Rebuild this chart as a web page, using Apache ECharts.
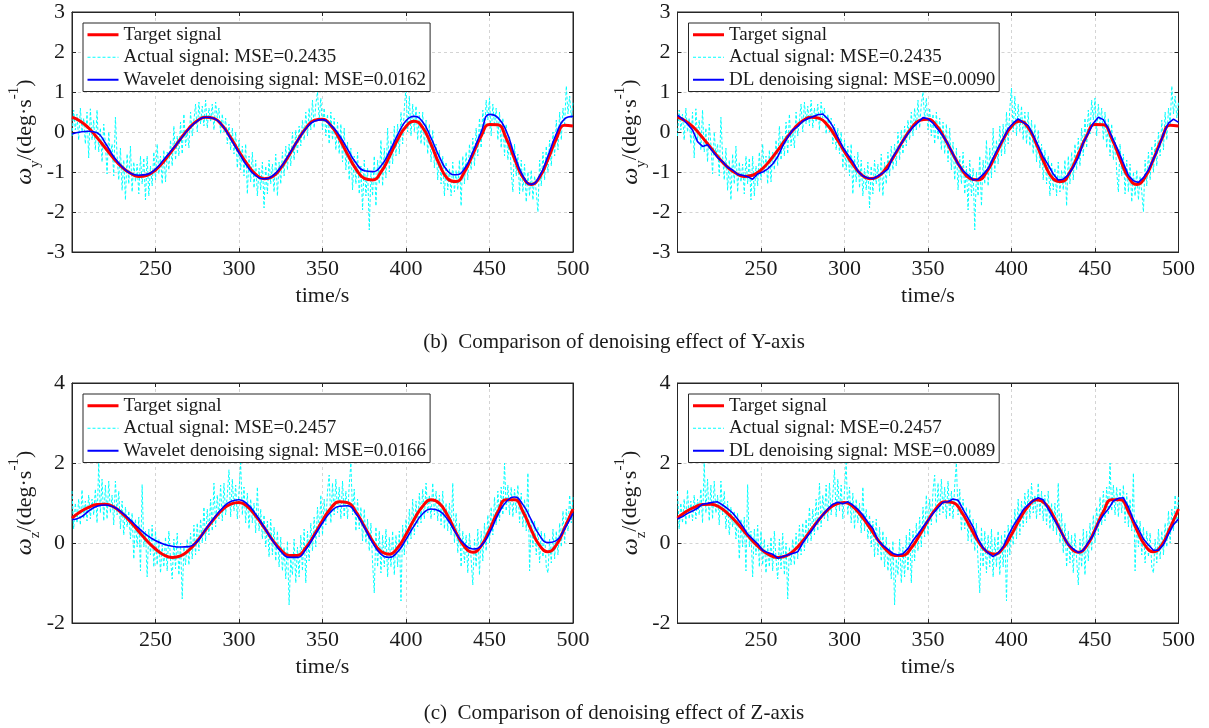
<!DOCTYPE html>
<html>
<head>
<meta charset="utf-8">
<script src="https://cdn.jsdelivr.net/npm/echarts@6/dist/echarts.min.js"></script>
<style>
  html, body { margin: 0; padding: 0; background: #fff; }
  #chart { width: 1209px; height: 728px; }
</style>
</head>
<body>
<div id="chart"></div>
<script>
// ---- data (time starts at 200 s) ----
const tStart = 200

// Y axis, target: every 5 s
const targetY = [
  0.37, 0.27, 0.10, -0.14, -0.40, -0.66, -0.88, -1.03, -1.11, -1.08,
  -0.95, -0.73, -0.46, -0.17, 0.09, 0.28, 0.37, 0.34, 0.16, -0.14,
  -0.49, -0.81, -1.06, -1.17, -1.12, -0.90, -0.58, -0.22, 0.09, 0.29,
  0.32, 0.16, -0.16, -0.56, -0.92, -1.16, -1.20, -1.00, -0.62, -0.19,
  0.14, 0.27, 0.11, -0.31, -0.81, -1.17, -1.24, -1.00, -0.56, -0.10,
  0.19, 0.18, -0.16, -0.67, -1.13, -1.31, -1.13, -0.68, -0.17, 0.17,
  0.15
]
// Y axis, wavelet denoising: every 5 s
const waveletY = [
  -0.05, 0.00, 0.02, -0.02, -0.28, -0.62, -0.87, -1.03, -1.08, -1.06,
  -0.93, -0.69, -0.44, -0.18, 0.08, 0.27, 0.37, 0.34, 0.16, -0.17,
  -0.52, -0.86, -1.09, -1.17, -1.10, -0.88, -0.56, -0.22, 0.08, 0.27,
  0.31, 0.17, -0.08, -0.43, -0.77, -0.97, -0.99, -0.85, -0.50, -0.07,
  0.28, 0.39, 0.25, -0.15, -0.62, -0.98, -1.07, -0.92, -0.50, 0.00,
  0.44, 0.36, 0.03, -0.58, -1.10, -1.31, -1.10, -0.60, -0.05, 0.33,
  0.39
]
// Y axis, DL denoising: every 3 s
const dlY = [
  0.42, 0.33, 0.20, 0.05, -0.24, -0.36, -0.32, -0.48, -0.64, -0.74,
  -0.88, -0.95, -1.06, -1.08, -1.12, -1.18, -1.05, -1.00, -0.92, -0.80,
  -0.62, -0.35, -0.13, 0.05, 0.14, 0.27, 0.33, 0.38, 0.43, 0.45,
  0.33, 0.14, -0.13, -0.38, -0.57, -0.74, -0.98, -1.10, -1.15, -1.17,
  -1.10, -1.02, -0.93, -0.62, -0.42, -0.22, -0.04, 0.12, 0.24, 0.36,
  0.33, 0.22, 0.06, -0.10, -0.30, -0.55, -0.80, -0.97, -1.08, -1.20,
  -1.18, -1.06, -0.92, -0.65, -0.40, -0.17, 0.08, 0.22, 0.33, 0.24,
  0.16, -0.08, -0.35, -0.62, -0.82, -1.05, -1.20, -1.18, -1.07, -0.88,
  -0.64, -0.27, -0.03, 0.22, 0.37, 0.31, 0.08, -0.20, -0.47, -0.78,
  -1.08, -1.22, -1.26, -1.14, -0.95, -0.68, -0.40, -0.05, 0.22, 0.32,
  0.24
]
// Y axis, actual (noisy) signal: every 1 s
const actualY = [
  -0.1, 0.55, 0.05, 0.45, -0.2, 0.6, 0.0, 0.35, -0.3, 0.5,
  -0.65, 0.58, -0.2, 0.3, -0.45, 0.55, -0.5, 0.1, -0.75, 0.2,
  -0.3, -1.05, 0.0, -0.6, -0.3, -1.1, 0.37, -0.6, -1.2, -0.4,
  -1.46, -0.7, -1.7, -0.55, -1.3, -0.35, -1.5, -0.75, -1.25, -0.8,
  -1.55, -0.6, -1.3, -0.65, -1.7, -0.6, -1.6, -0.85, -1.35, -0.5,
  -1.2, -0.3, -1.05, -0.6, -1.3, -0.45, -1.25, -0.5, -0.95, -0.2,
  -0.85, 0.15, -0.7, -0.1, -0.6, 0.25, -0.55, 0.45, -0.35, 0.05,
  -0.4, 0.5, -0.1, 0.3, 0.7, 0.0, 0.75, 0.2, 0.65, 0.15,
  0.8, 0.1, 0.6, 0.25, 0.7, 0.05, 0.75, 0.35, 0.6, -0.05,
  0.45, 0.0, 0.35, -0.3, 0.2, -0.45, 0.1, -0.55, 0.0, -0.9,
  -0.2, -0.95, -0.35, -1.1, -0.3, -1.55, -0.6, -1.25, -0.5, -1.4,
  -0.7, -1.6, -0.9, -1.45, -0.75, -1.9, -0.85, -1.55, -0.7, -1.3,
  -0.8, -1.5, -0.55, -1.6, -0.75, -1.3, -0.5, -1.1, -0.35, -0.95,
  -0.3, -0.85, 0.0, -0.7, 0.05, -0.55, 0.15, -0.35, 0.3, -0.2,
  0.5, -0.1, 0.6, 0.05, 0.8, 0.1, 0.7, 1.0, 0.3, 0.85,
  0.05, 0.6, -0.1, 0.45, -0.3, 0.5, -0.2, 0.35, -0.45, 0.25,
  -0.55, 0.2, -0.75, 0.1, -0.95, -0.25, -1.2, -0.4, -1.45, -0.6,
  -1.3, -0.5, -1.55, -0.85, -1.95, -0.7, -1.6, -0.9, -2.45, -1.0,
  -1.6, -0.6, -1.85, -0.7, -1.3, -0.2, -1.35, -0.4, -1.15, 0.1,
  -1.0, -0.2, -0.8, 0.15, -0.6, 0.2, -0.55, 0.5, -0.3, 0.6,
  1.1, 0.0, 0.9, -0.1, 0.7, 0.0, 0.65, -0.2, 0.5, -0.3,
  0.5, -0.35, 0.3, -0.55, 0.2, -0.75, 0.05, -0.9, -0.3, -1.2,
  -0.45, -1.3, -0.6, -1.6, -0.75, -1.45, -0.9, -1.6, -0.75, -1.5,
  -0.95, -1.45, -0.7, -1.85, -0.6, -1.3, -0.5, -1.2, -0.3, -0.95,
  -0.15, -0.85, 0.1, -0.6, 0.35, -0.4, 0.55, -0.05, 0.8, 0.3,
  0.85, -0.1, 0.7, 0.15, 0.6, -0.2, 0.5, -0.4, 0.35, -0.6,
  0.2, -0.7, -0.1, -1.0, -1.5, -0.3, -1.1, -0.55, -1.55, -0.7,
  -1.5, -0.8, -1.75, -1.0, -1.6, -0.95, -1.7, -1.1, -1.5, -2.0,
  -0.7, -1.35, -0.5, -1.2, -0.35, -1.0, -0.2, -0.85, 0.0, -0.6,
  0.3, -0.45, 0.5, -0.2, 0.6, 0.2, 1.15, 0.45, 0.9, 0.35,
  0.75
]

// Z axis, target: every 5 s
const targetZ = [
  0.62, 0.78, 0.89, 0.96, 0.97, 0.90, 0.74, 0.53, 0.29, 0.05,
  -0.15, -0.30, -0.36, -0.32, -0.18, 0.05, 0.33, 0.60, 0.83, 0.97,
  1.01, 0.91, 0.68, 0.39, 0.08, -0.17, -0.31, -0.31, -0.12, 0.20,
  0.56, 0.87, 1.03, 1.01, 0.78, 0.42, 0.05, -0.21, -0.28, -0.12,
  0.21, 0.60, 0.92, 1.08, 0.99, 0.68, 0.26, -0.09, -0.23, -0.07,
  0.33, 0.78, 1.08, 1.08, 0.79, 0.33, -0.06, -0.22, -0.05, 0.38,
  0.85
]
// Z axis, wavelet denoising: every 5 s
const waveletZ = [
  0.58, 0.64, 0.80, 0.92, 0.95, 0.90, 0.76, 0.57, 0.37, 0.19,
  0.06, -0.03, -0.08, -0.10, -0.09, 0.04, 0.34, 0.62, 0.87, 1.04,
  1.08, 0.97, 0.72, 0.40, 0.07, -0.21, -0.36, -0.36, -0.16, 0.17,
  0.50, 0.78, 0.92, 0.93, 0.74, 0.40, 0.01, -0.28, -0.36, -0.22,
  0.09, 0.44, 0.73, 0.85, 0.80, 0.58, 0.24, -0.03, -0.15, -0.07,
  0.25, 0.70, 1.03, 1.15, 0.96, 0.58, 0.19, 0.01, 0.06, 0.36,
  0.74
]
// Z axis, DL denoising: every 3 s
const dlZ = [
  0.60, 0.66, 0.74, 0.80, 0.87, 0.97, 0.99, 1.02, 1.03, 0.95,
  0.86, 0.75, 0.60, 0.42, 0.22, 0.10, -0.02, -0.18, -0.24, -0.28,
  -0.38, -0.34, -0.30, -0.26, -0.22, 0.00, 0.18, 0.35, 0.55, 0.70,
  0.85, 0.97, 1.02, 0.98, 1.03, 0.95, 0.84, 0.70, 0.52, 0.36,
  0.07, -0.06, -0.16, -0.26, -0.30, -0.27, -0.14, 0.06, 0.22, 0.40,
  0.56, 0.74, 0.88, 1.02, 1.03, 1.10, 1.07, 0.84, 0.62, 0.40,
  0.10, -0.12, -0.25, -0.34, -0.25, -0.10, 0.18, 0.42, 0.62, 0.83,
  0.96, 1.06, 1.13, 1.08, 0.85, 0.62, 0.42, 0.18, -0.04, -0.15,
  -0.24, -0.18, 0.02, 0.20, 0.50, 0.70, 0.85, 1.05, 1.12, 1.13,
  0.90, 0.58, 0.35, 0.10, -0.05, -0.18, -0.18, -0.04, 0.22, 0.46,
  0.60
]
// Z axis, actual (noisy) signal: every 1 s
const actualZ = [
  1.3, 0.35, 1.0, 0.5, 1.1, 0.45, 1.33, 0.6, 1.05, 0.55,
  1.2, 0.6, 1.1, 0.7, 1.35, 0.5, 2.0, 0.75, 1.6, 0.55,
  1.45, 0.6, 1.55, 0.75, 1.2, 0.45, 1.55, 0.7, 1.3, 0.35,
  1.05, 0.2, 0.9, 0.4, 0.8, 0.1, 0.75, -0.4, 0.6, -0.1,
  0.65, -0.7, 1.46, -0.1, 0.3, -0.85, 0.35, -0.3, 0.45, -0.6,
  0.3, -0.55, 0.1, -0.75, -0.05, -0.6, 0.15, -0.7, 0.3, -0.4,
  -0.9, 0.1, -0.65, 0.25, -0.8, 0.0, -1.4, -0.1, -0.55, 0.1,
  -0.55, 0.25, -0.4, 0.45, -0.3, 0.5, -0.2, 0.6, 0.0, 0.9,
  0.05, 0.85, 0.2, 1.1, 0.3, 1.5, 0.4, 1.2, 0.6, 1.45,
  0.55, 1.5, 0.7, 1.2, 1.83, 0.65, 1.6, 0.8, 1.45, 0.6,
  1.3, 2.0, 0.7, 1.4, 0.5, 1.25, 0.35, 1.1, 0.5, 1.0,
  0.25, 1.4, 0.3, 0.85, 0.1, 0.7, -0.1, 0.55, -0.35, 0.6,
  -0.3, 0.4, -0.45, 0.3, -0.6, 0.15, -0.7, -0.1, -0.9, 0.05,
  -1.55, -0.4, -0.8, 0.1, -1.0, -0.1, -0.85, 0.2, -0.7, 0.35,
  -1.0, 0.3, -0.45, 0.5, -0.2, 0.65, -0.1, 0.9, 0.15, 1.2,
  0.2, 1.1, 0.45, 1.3, 1.7, 0.5, 1.5, 0.7, 1.6, 0.75,
  1.4, 0.6, 1.55, 0.65, 1.3, 0.6, 1.45, 2.0, 0.7, 1.35,
  0.3, 1.1, 0.35, 0.9, 0.05, 0.85, 0.0, 0.6, -0.2, 0.5,
  -0.5, -1.25, 0.4, -0.6, 0.3, -0.75, 0.2, -0.6, 0.35, -0.85,
  0.15, -0.6, 0.3, -0.8, 0.2, -0.6, 0.3, -1.45, 0.45, -0.3,
  0.6, -0.05, 0.85, 0.1, 1.1, 0.2, 1.05, 0.4, 1.25, 0.5,
  1.35, 0.6, 1.5, 0.75, 1.2, 0.6, 1.5, 0.7, 1.3, 0.55,
  1.2, 0.45, 1.3, 0.35, 1.0, 0.3, 1.0, 0.2, 1.5, 0.0,
  0.75, -0.25, 0.5, -0.6, 0.3, -0.5, 0.2, -0.75, 0.25, -0.4,
  -1.05, 0.1, -0.6, 0.35, -0.8, 0.3, -0.45, 0.5, -0.2, 0.7,
  0.0, 0.9, 0.2, 1.15, 0.45, 1.3, 0.55, 1.4, 0.7, 2.0,
  0.8, 1.45, 0.7, 1.4, 0.65, 1.35, 0.75, 1.45, 0.5, 1.25,
  0.4, 1.1, 0.3, 1.75, -0.7, 0.6, -0.1, 0.55, -0.3, 0.4,
  -0.5, 0.3, -0.35, 0.25, -0.6, -0.75, 0.1, -0.5, 0.35, -0.4,
  0.3, -0.3, 0.5, -0.1, 0.8, 0.0, 0.85, 0.3, 1.2, 0.5,
  1.2
]

const xTicks = { min: 200, max: 500, interval: 50 }
const yTicksY = { min: -3, max: 3, interval: 1 }
const yTicksZ = { min: -2, max: 4, interval: 2 }

const nameTarget = 'Target signal'
const nameActualY = 'Actual signal: MSE=0.2435'
const nameActualZ = 'Actual signal: MSE=0.2457'
const nameWaveletY = 'Wavelet denoising signal: MSE=0.0162'
const nameWaveletZ = 'Wavelet denoising signal: MSE=0.0166'
const nameDLY = 'DL denoising signal: MSE=0.0090'
const nameDLZ = 'DL denoising signal: MSE=0.0089'

const captionY = '(b)  Comparison of denoising effect of Y-axis'
const captionZ = '(c)  Comparison of denoising effect of Z-axis'

// ---- chart ----
const serif = '"Liberation Serif", "Times New Roman", serif'
const ink = '#1a1a1a'
const frame = '#262626'

const pairs = (step, vals) => vals.map((v, i) => [tStart + i * step, v])

const panels = [
  { left: 72, top: 12, ticks: yTicksY, sub: 'y', actual: actualY, target: targetY, den: waveletY, names: [nameTarget, nameActualY, nameWaveletY], denStep: 5, smoothDen: true },
  { left: 677.5, top: 12, ticks: yTicksY, sub: 'y', actual: actualY, target: targetY, den: dlY, names: [nameTarget, nameActualY, nameDLY], denStep: 3, smoothDen: false },
  { left: 72, top: 383, ticks: yTicksZ, sub: 'z', actual: actualZ, target: targetZ, den: waveletZ, names: [nameTarget, nameActualZ, nameWaveletZ], denStep: 5, smoothDen: true },
  { left: 677.5, top: 383, ticks: yTicksZ, sub: 'z', actual: actualZ, target: targetZ, den: dlZ, names: [nameTarget, nameActualZ, nameDLZ], denStep: 3, smoothDen: false }
]

const chart = echarts.init(document.getElementById('chart'))

const grid = [], xAxis = [], yAxis = [], series = [], legend = []

const gridLine = { show: true, showMinLine: false, showMaxLine: false, lineStyle: { color: '#d4d4d4', type: [3, 3] } }
const tick = { inside: true, length: 4, lineStyle: { color: frame } }

panels.forEach((p, i) => {
  grid.push({
    left: p.left, top: p.top, width: 501, height: 240,
    show: true, borderColor: frame, borderWidth: 1, backgroundColor: '#fff'
  })
})

panels.forEach((p, i) => {
  xAxis.push({
    gridIndex: i, type: 'value', ...xTicks,
    name: 'time/s', nameLocation: 'middle', nameGap: 33,
    nameTextStyle: { fontFamily: serif, fontSize: 22, color: ink },
    axisLine: { show: true, onZero: false, lineStyle: { color: frame } },
    axisTick: tick,
    axisLabel: { showMinLabel: false, margin: 6, fontFamily: serif, fontSize: 22, color: ink },
    splitLine: gridLine
  })
  yAxis.push({
    gridIndex: i, type: 'value', ...p.ticks,
    name: '{w|ω}{s|' + p.sub + '}{t|/(deg·s}{p|-1}{t|)}',
    nameLocation: 'middle', nameRotate: 90, nameGap: 27,
    nameTextStyle: {
      fontFamily: serif, fontSize: 22, color: ink,
      rich: {
        w: { fontFamily: serif, fontSize: 24, fontStyle: 'italic', color: ink, lineHeight: 36, verticalAlign: 'middle' },
        s: { fontFamily: serif, fontSize: 15, color: ink, lineHeight: 36, verticalAlign: 'bottom' },
        t: { fontFamily: serif, fontSize: 22, color: ink, lineHeight: 36, verticalAlign: 'middle' },
        p: { fontFamily: serif, fontSize: 15, color: ink, lineHeight: 36, verticalAlign: 'top' }
      }
    },
    axisLine: { show: true, onZero: false, lineStyle: { color: frame } },
    axisTick: tick,
    axisLabel: { margin: 7, fontFamily: serif, fontSize: 22, color: ink },
    splitLine: gridLine
  })
})

// top and right axes close the box, ticks only
panels.forEach((p, i) => {
  xAxis.push({
    gridIndex: i, type: 'value', position: 'top', ...xTicks,
    axisLine: { show: true, onZero: false, lineStyle: { color: frame } },
    axisLabel: { show: false }, splitLine: { show: false }, axisTick: tick
  })
  yAxis.push({
    gridIndex: i, type: 'value', position: 'right', ...p.ticks,
    axisLine: { show: true, onZero: false, lineStyle: { color: frame } },
    axisLabel: { show: false }, splitLine: { show: false }, axisTick: tick
  })
})

panels.forEach((p, i) => {
  series.push({
    type: 'line', name: p.names[1], xAxisIndex: i, yAxisIndex: i,
    data: pairs(1, p.actual), symbol: 'none', z: 2,
    itemStyle: { color: '#00ffff' },
    lineStyle: { color: '#00ffff', width: 1, type: [3, 2] }
  })
  series.push({
    type: 'line', name: p.names[0], xAxisIndex: i, yAxisIndex: i,
    data: pairs(5, p.target), symbol: 'none', smooth: true, z: 3,
    itemStyle: { color: '#ff0000' },
    lineStyle: { color: '#ff0000', width: 3 }
  })
  series.push({
    type: 'line', name: p.names[2], xAxisIndex: i, yAxisIndex: i,
    data: pairs(p.denStep, p.den), symbol: 'none', smooth: p.smoothDen, z: 4,
    itemStyle: { color: '#0000ff' },
    lineStyle: { color: '#0000ff', width: 1.6 }
  })
  legend.push({
    orient: 'vertical', align: 'left',
    left: p.left + 11, top: p.top + 11,
    data: [
      { name: p.names[0], lineStyle: { width: 3 } },
      { name: p.names[1], lineStyle: { width: 1 } },
      { name: p.names[2], lineStyle: { width: 2 } }
    ],
    selectedMode: false,
    itemWidth: 31, itemHeight: 14, itemGap: 1,
    padding: [1, 4, 1, 3],
    itemStyle: { opacity: 0 },
    backgroundColor: '#fff', borderColor: frame, borderWidth: 1,
    textStyle: { fontFamily: serif, fontSize: 19, color: ink, lineHeight: 21.5 }
  })
})

const option = {
  animation: false,
  backgroundColor: '#fff',
  grid, xAxis, yAxis, series, legend,
  graphic: [
    { type: 'text', x: 614, y: 342, style: { text: captionY, fontFamily: serif, fontSize: 21, fill: ink, align: 'center', verticalAlign: 'middle' } },
    { type: 'text', x: 614, y: 713, style: { text: captionZ, fontFamily: serif, fontSize: 21, fill: ink, align: 'center', verticalAlign: 'middle' } }
  ]
}

chart.setOption(option)
</script>
</body>
</html>
